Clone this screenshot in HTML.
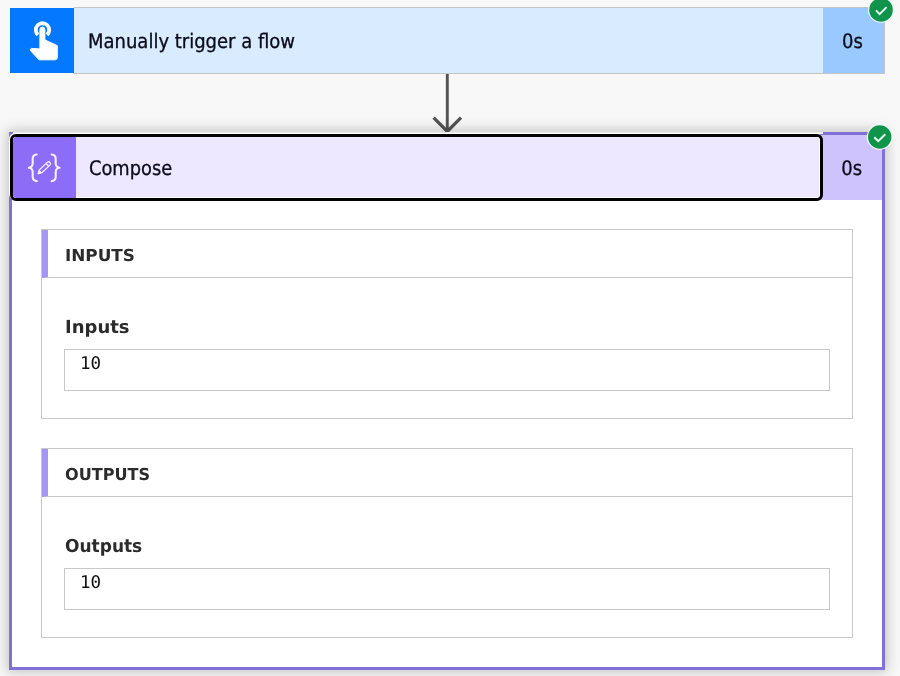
<!DOCTYPE html>
<html lang="en">
<head>
<meta charset="utf-8">
<title>Flow run</title>
<style>
  html, body { margin: 0; padding: 0; }
  body {
    width: 900px; height: 676px; overflow: hidden; position: relative;
    background: #f8f8f8;
    font-family: "DejaVu Sans Condensed", "Liberation Sans", sans-serif;
    font-stretch: condensed;
    color: #0b0b1a;
  }
  .abs { position: absolute; box-sizing: border-box; }
  .title, .dur, .ph, .lbl, .val { will-change: transform; text-rendering: geometricPrecision; }
  .title, .dur { -webkit-text-stroke: 0.3px currentColor; }
  .title span, .dur span { display: inline-block; transform-origin: 0 50%; }
  .compose .title span { transform: scaleX(.99); }

  /* trigger card */
  .trigger { left: 74px; top: 7px; width: 811px; height: 67px; border: 1px solid #c4c4c4; border-left: 0; background: #d9ebff; }
  .ticon { left: 10px; top: 8px; width: 64.4px; height: 65px; background: #0479ff; }
  .trigger .title { left: 14.4px; top: 0; height: 65px; line-height: 67px; font-size: 20px; white-space: nowrap; }
  .trigger .dur { right: 0; top: 0; width: 61px; height: 65px; background: #99c9ff; line-height: 67px; text-align: center; font-size: 20px; padding-right: 2px; }

  /* compose card */
  .compose { left: 9px; top: 132px; width: 876px; height: 538px; border: 3px solid #8170d6; background: #fff;
    box-shadow: 0 0 12px 2px rgba(0,0,0,.22); }
  .chead { left: 0; top: 0; width: 870px; height: 65px; background: #cfc3fd; }
  .cfocus { left: -2px; top: -1px; width: 813px; height: 67px; border: 3px solid #000; border-radius: 6px; background: #fff; overflow: hidden;
    box-shadow: -1px -1px 0 0 #fff; }
  .cfocus .hbg { left: 0; top: 0; width: 806px; height: 60px; background: #ede8ff; }
  .cfocus .icon { left: 0; top: 0; width: 63px; height: 61px; background: #8b6df8; }
  .cfocus .title { left: 76px; top: 0; height: 61px; line-height: 62px; font-size: 20px; white-space: nowrap; }
  .chead .dur { right: 0; top: 0; width: 60px; height: 65px; line-height: 66px; text-align: center; font-size: 20px; padding-right: .5px; }
  .topwhite { left: 1px; top: -3px; width: 810px; height: 2px; background: linear-gradient(#e8e8e8 50%, #fff 50%); }

  .panel { left: 29px; width: 812px; height: 190px; border: 1px solid #c8c8c8; background: #fff; }
  .panel .ph { left: 0; top: 0; width: 810px; height: 48px; border-bottom: 1px solid #c8c8c8; border-left: 6px solid #a596f2;
     font-family: "DejaVu Sans", "Liberation Sans", sans-serif; font-stretch: normal; font-weight: bold; font-size: 16.5px; line-height: 51px; padding-left: 16px; color: #2b2b2b; }
  .panel .lbl { left: 22.5px; top: 87px; font-family: "DejaVu Sans", "Liberation Sans", sans-serif; font-stretch: normal; font-weight: bold; font-size: 18px; line-height: 22px; color: #2b2b2b; white-space: nowrap; }
  .panel .val { left: 22px; top: 119px; width: 766px; height: 42px; border: 1px solid #c8c8c8; font-family: "DejaVu Sans Mono", "Liberation Mono", monospace; font-stretch: normal; font-size: 17.5px; line-height: 20px; padding: 4px 0 0 15px; color: #111; }
  .sq { display: inline-block; transform: scaleX(.945); transform-origin: 0 50%; }
</style>
</head>
<body>

<div class="abs ticon"></div>
<div class="abs trigger">
  <div class="abs title"><span>Manually trigger a flow</span></div>
  <div class="abs dur"><span>0s</span></div>
</div>

<svg class="abs" style="left:425px;top:72px" width="44" height="64" viewBox="0 0 44 64">
  <path d="M22.3 2 V59" fill="none" stroke="#535353" stroke-width="2.9"/><path d="M8.6 45.6 L22.3 59.3 L36 45.6" fill="none" stroke="#535353" stroke-width="3.3"/>
</svg>

<div class="abs compose">
  <div class="abs chead">
    <div class="abs topwhite"></div>
    <div class="abs dur"><span>0s</span></div>
    <div class="abs cfocus">
      <div class="abs hbg"></div>
      <div class="abs icon"></div>
      <div class="abs title"><span>Compose</span></div>
    </div>
  </div>

  <div class="abs panel" style="top:94px">
    <div class="abs ph"><span class="sq" style="transform:scaleX(1.02);margin-left:.6px">INPUTS</span></div>
    <div class="abs lbl">Inputs</div>
    <div class="abs val">10</div>
  </div>

  <div class="abs panel" style="top:313px">
    <div class="abs ph"><span class="sq" style="transform:scaleX(.975);margin-left:.7px">OUTPUTS</span></div>
    <div class="abs lbl"><span class="sq">Outputs</span></div>
    <div class="abs val">10</div>
  </div>
</div>


<svg class="abs" style="left:0;top:0;pointer-events:none" width="900" height="676" viewBox="0 0 900 676">
  <!-- touch / hand icon -->
  <g fill="#fff" stroke="#fff" stroke-linejoin="round">
    <path d="M38.0 34.9 A6.7 6.7 0 1 1 47.0 34.9" fill="none" stroke-width="3.8"/>
    <path stroke-width="1" d="M39.9 29.6 A2.5 2.5 0 0 1 44.9 29.6 L44.9 39.9 L57.3 45.6 L57.3 57.6 Q57.2 59.7 55.2 59.8 L39.0 59.8 L30.6 50.7 Q29.5 49.0 31.5 48.4 L39.9 48.9 Z"/>
  </g>
  <!-- compose icon: braces + pencil -->
  <g fill="none" stroke="#f6efff" stroke-width="2.1" stroke-linecap="round" stroke-linejoin="round">
    <path d="M36.7 154.5 Q32.7 154.7 32.7 159.0 L32.7 163.3 Q32.7 167.3 28.9 167.8 Q32.7 168.3 32.7 172.3 L32.7 176.6 Q32.7 180.9 36.7 181.1"/>
    <path d="M51.7 154.5 Q55.7 154.7 55.7 159.0 L55.7 163.3 Q55.7 167.3 59.5 167.8 Q55.7 168.3 55.7 172.3 L55.7 176.6 Q55.7 180.9 51.7 181.1"/>
  </g>
  <g transform="translate(38.2 173.6) rotate(-43.5)" fill="none" stroke="#f6efff" stroke-width="1.25" stroke-linejoin="round">
    <path d="M0 0 L3.6 -1.9 L14.3 -1.9 A1.9 1.9 0 0 1 14.3 1.9 L3.6 1.9 Z"/>
    <path d="M0 0 L2.8 -1.4 L2.8 1.4 Z" fill="#f6efff"/>
    <path d="M12.6 -1.9 V1.9"/>
  </g>
  <!-- status badges -->
  <g>
    <circle cx="881" cy="9.9" r="12.9" fill="#effcf5"/>
    <circle cx="881" cy="9.9" r="11.8" fill="#10934a"/>
    <path d="M876 10.4 L879.6 14.1 L886.6 7.1" fill="none" stroke="#e6fff0" stroke-width="2"/>
    <circle cx="879.7" cy="137" r="12.9" fill="#effcf5"/>
    <circle cx="879.7" cy="137" r="11.7" fill="#10934a"/>
    <path d="M874.3 137.3 L878.2 141.2 L885.3 134.2" fill="none" stroke="#e6fff0" stroke-width="2"/>
  </g>
</svg>

</body>
</html>
